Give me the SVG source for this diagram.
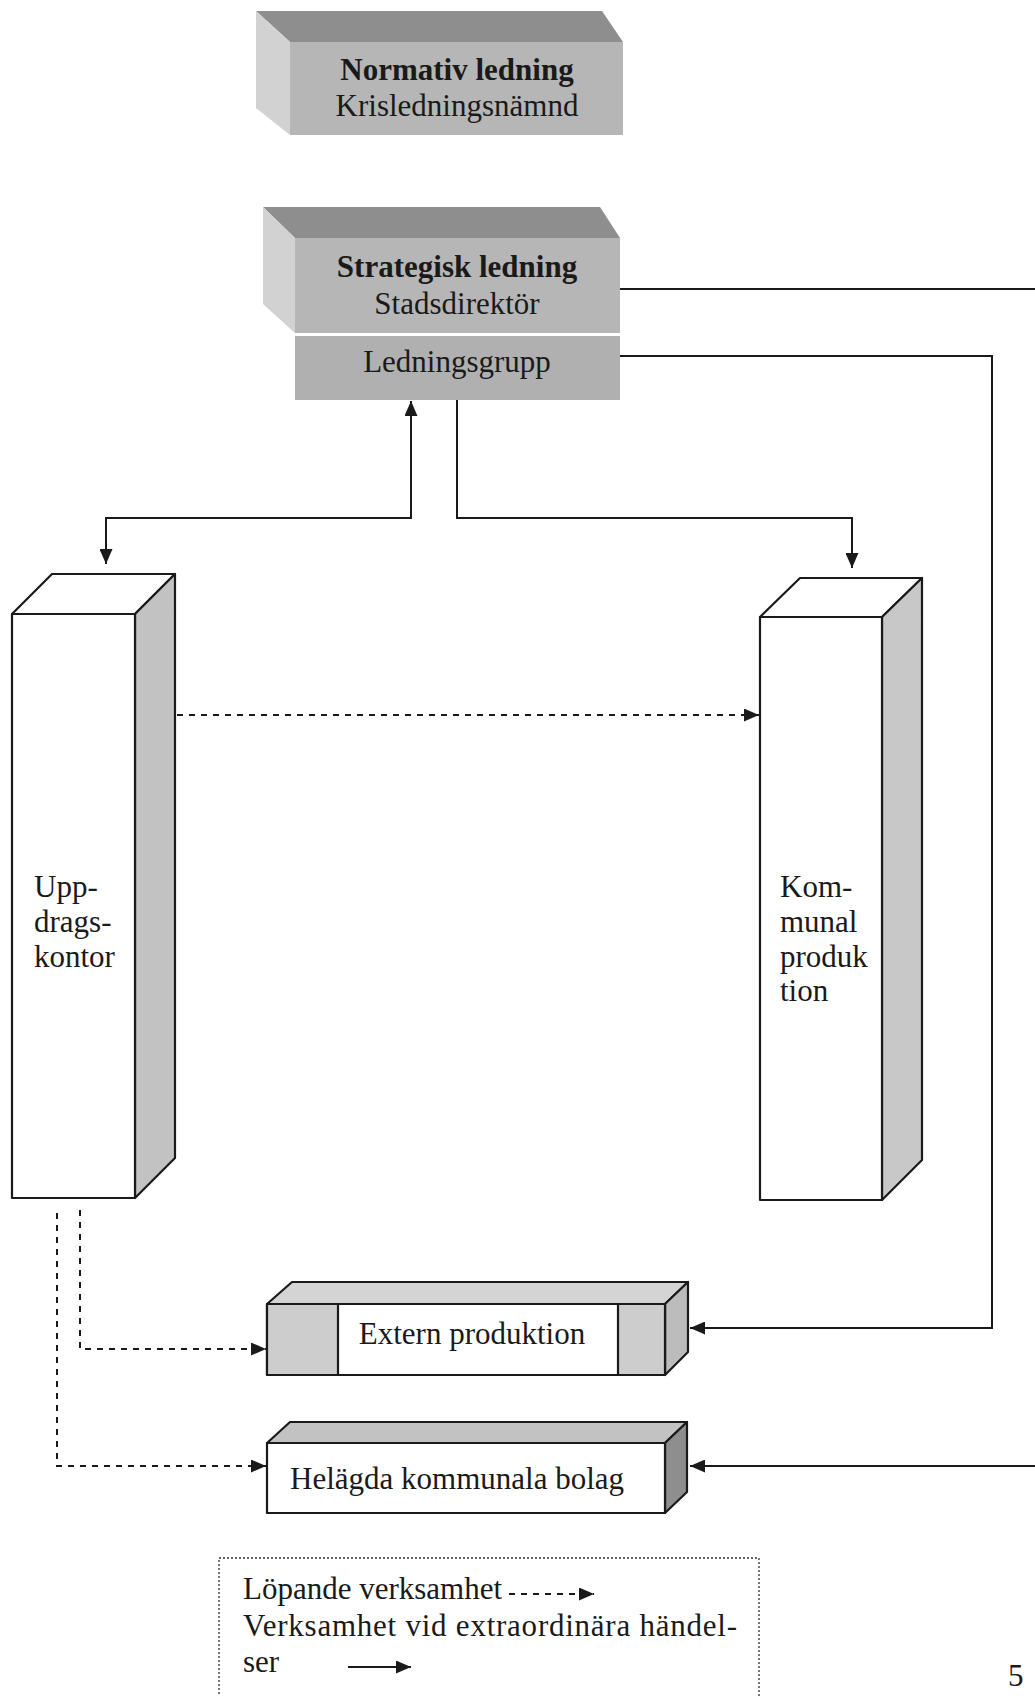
<svg xmlns="http://www.w3.org/2000/svg" width="1035" height="1696" viewBox="0 0 1035 1696">
<style>
text{font-family:"Liberation Serif","Times New Roman",serif;fill:#1a1a1a;font-size:31px}
.b{font-weight:bold}
.m{text-anchor:middle}
.edge{stroke:#1a1a1a;stroke-width:2.2;stroke-linejoin:round}
.solid{fill:none;stroke:#1a1a1a;stroke-width:2}
.dash{fill:none;stroke:#1a1a1a;stroke-width:2;stroke-dasharray:6 6}
</style>
<defs>
<marker id="ah" markerWidth="15" markerHeight="13" refX="15" refY="6.5" orient="auto" markerUnits="userSpaceOnUse">
<path d="M0,0 L15,6.5 L0,13 Z" fill="#1a1a1a"/>
</marker>
</defs>
<rect width="1035" height="1696" fill="#fff"/>

<g id="normativ">
<polygon points="256,11 602,11 623,42 290,42" fill="#8e8e8e"/>
<polygon points="256,11 290,42 290,135 256,108" fill="#d2d2d2"/>
<rect x="290" y="42" width="333" height="93" fill="#b6b6b6"/>
<text class="b m" x="457" y="80">Normativ ledning</text>
<text class="m" x="457" y="116">Krisledningsnämnd</text>
</g>

<g id="strategisk">
<polygon points="263,207 600,207 620,238 295,238" fill="#8e8e8e"/>
<polygon points="263,207 295,238 295,333 263,304" fill="#d2d2d2"/>
<rect x="295" y="238" width="325" height="95" fill="#b6b6b6"/>
<rect x="295" y="336" width="325" height="64" fill="#b0b0b0"/>
<text class="b m" x="457" y="277">Strategisk ledning</text>
<text class="m" x="457" y="314">Stadsdirektör</text>
<text class="m" x="457" y="372">Ledningsgrupp</text>
</g>

<g id="uppdragskontor" class="edge">
<polygon points="12,614 52,574 175,574 135,614" fill="#fff"/>
<polygon points="135,614 175,574 175,1158 135,1198" fill="#c2c2c2"/>
<rect x="12" y="614" width="123" height="584" fill="#fff"/>
<g stroke="none">
<text x="34" y="897">Upp-</text>
<text x="34" y="932">drags-</text>
<text x="34" y="967">kontor</text>
</g>
</g>

<g id="kommunal" class="edge">
<polygon points="760,617 800,578 922,578 882,617" fill="#fff"/>
<polygon points="882,617 922,578 922,1160 882,1200" fill="#c8c8c8"/>
<rect x="760" y="617" width="122" height="583" fill="#fff"/>
<g stroke="none">
<text x="780" y="897">Kom-</text>
<text x="780" y="932">munal</text>
<text x="780" y="967">produk</text>
<text x="780" y="1001">tion</text>
</g>
</g>

<g id="extern" class="edge">
<polygon points="267,1304 292,1282 688,1282 665,1304" fill="#d4d4d4"/>
<polygon points="665,1304 688,1282 688,1352 665,1375" fill="#bcbcbc"/>
<rect x="267" y="1304" width="398" height="71" fill="#fff"/>
<rect x="267" y="1304" width="71" height="71" fill="#cdcdcd"/>
<rect x="618" y="1304" width="47" height="71" fill="#cdcdcd"/>
<text class="m" x="472" y="1344" stroke="none">Extern produktion</text>
</g>

<g id="helagda" class="edge">
<polygon points="267,1443 290,1422 687,1422 665,1443" fill="#c2c2c2"/>
<polygon points="665,1443 687,1422 687,1492 665,1513" fill="#8e8e8e"/>
<rect x="267" y="1443" width="398" height="70" fill="#fff"/>
<text x="290" y="1489" stroke="none">Helägda kommunala bolag</text>
</g>

<g id="connectors">
<line class="solid" x1="620" y1="289" x2="1035" y2="289"/>
<polyline class="solid" points="620,356 992,356 992,1328 690,1328" marker-end="url(#ah)"/>
<line class="solid" x1="1035" y1="1466" x2="690" y2="1466" marker-end="url(#ah)"/>
<polyline class="solid" points="106,518 411,518 411,401" marker-end="url(#ah)"/>
<polyline class="solid" points="411,518 106,518 106,564" marker-end="url(#ah)"/>
<polyline class="solid" points="457,400 457,518 852,518 852,568" marker-end="url(#ah)"/>
<line class="dash" x1="177" y1="715" x2="759" y2="715" marker-end="url(#ah)"/>
<polyline class="dash" points="80,1210 80,1349 266,1349" marker-end="url(#ah)"/>
<polyline class="dash" points="57,1213 57,1466 266,1466" marker-end="url(#ah)"/>
</g>

<g id="legend">
<rect x="219" y="1558" width="540" height="150" fill="none" stroke="#333" stroke-width="1.3" stroke-dasharray="2 2"/>
<text x="243" y="1599">Löpande verksamhet</text>
<line x1="509" y1="1594" x2="594" y2="1594" stroke="#1a1a1a" stroke-width="2" stroke-dasharray="6 6" marker-end="url(#ah)"/>
<text x="243" y="1636" textLength="494" lengthAdjust="spacing">Verksamhet vid extraordinära händel-</text>
<text x="243" y="1672">ser</text>
<line class="solid" x1="348" y1="1667" x2="411" y2="1667" marker-end="url(#ah)"/>
</g>

<text x="1008" y="1686" font-size="26">5</text>
</svg>
